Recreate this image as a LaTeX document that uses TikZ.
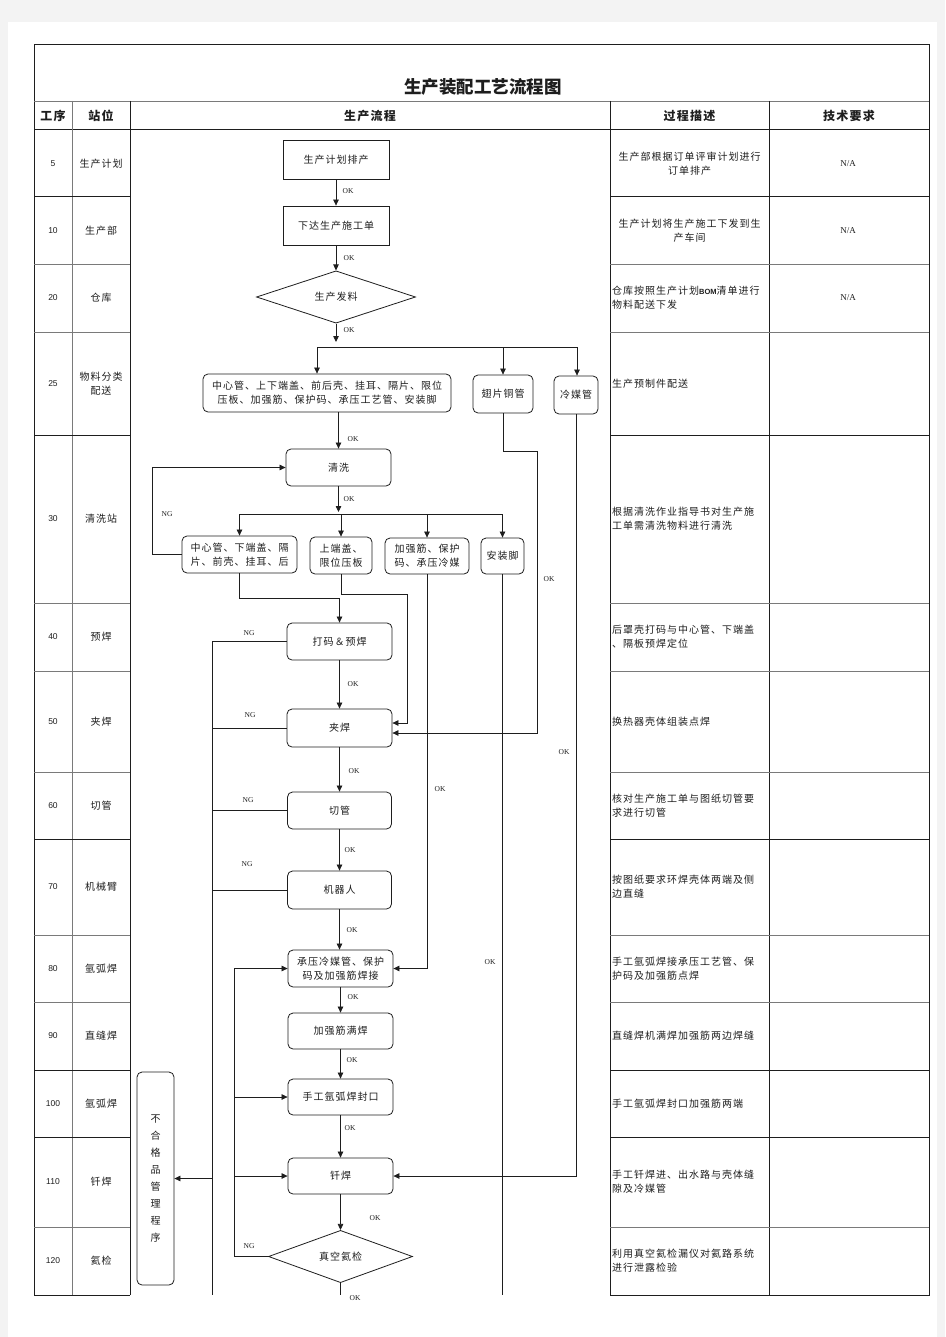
\documentclass[tikz,border=0pt]{standalone}
\usepackage{fontspec}
\setmainfont[LetterSpace=10]{Noto Sans CJK SC}
\newfontfamily\titlefont{Noto Sans CJK SC}
\newfontfamily\latserif{Liberation Serif}
\newfontfamily\latsans{Liberation Sans}
\usetikzlibrary{arrows.meta,shapes.geometric,calc}
\definecolor{pagebg}{HTML}{F3F3F3}
\definecolor{ink}{HTML}{1E1E1E}
\definecolor{gridc}{HTML}{7A7A7A}
\begin{document}
\begin{tikzpicture}[x=1pt,y=-1pt,
  tbl/.style={draw=ink,line width=1pt},
  tblthin/.style={draw=gridc,line width=0.8pt},
  txt/.style={font=\fontsize{10}{14}\selectfont,inner sep=0pt,align=center,text=ink},
  desc/.style={txt,anchor=west,align=left},
  numtxt/.style={font=\latsans\fontsize{8.5}{10}\selectfont,inner sep=0pt,text=ink},
  hdr/.style={font=\bfseries\fontsize{12}{14}\selectfont,inner sep=0pt,text=ink},
  na/.style={font=\latserif\fontsize{9}{10}\selectfont,inner sep=0pt,text=ink},
  lbl/.style={font=\latserif\fontsize{7.5}{8}\selectfont,inner sep=0pt,text=ink},
  sbox/.style={draw=ink,line width=0.8pt,inner sep=0pt,align=center,font=\fontsize{10}{14}\selectfont,text=ink},
  box/.style={sbox,rounded corners=5pt},
  dia/.style={draw=ink,line width=0.8pt,diamond,inner sep=0pt,align=center,font=\fontsize{10}{14}\selectfont,text=ink},
  ln/.style={draw=ink,line width=0.75pt},
  arr/.style={ln,-{Triangle[length=6pt,width=5.5pt]}}
]
\useasboundingbox (0,0) rectangle (945,1337);
\fill[pagebg] (0,0) rectangle (945,1337);
\fill[white] (8,22) rectangle (937,1337);

% ---------------- table ----------------
\draw[tbl] (130,1295) -- (34,1295) -- (34,45) -- (929,45) -- (929,1295) -- (610,1295);
\draw[tblthin] (34,101) -- (929,101);
\draw[tbl] (34,130) -- (929,130);
\draw[tblthin] (72,101) -- (72,1295);
\foreach \x in {130,610,769} \draw[tbl] (\x,101) -- (\x,1295);
\foreach \y in {197,435,839,1070,1137} {
  \draw[tbl] (34,\y) -- (130,\y);
  \draw[tbl] (610,\y) -- (929,\y);
}
\foreach \y in {264,332,603,671,772,935,1002,1227} {
  \draw[tblthin] (34,\y) -- (130,\y);
  \draw[tblthin] (610,\y) -- (929,\y);
}

\node[font=\titlefont\bfseries\fontsize{17.5}{20}\selectfont,inner sep=0pt,text=ink] (title) at (483,87) {生产装配工艺流程图};
\node[hdr] (h1) at (53,115.5) {工序};
\node[hdr] (h2) at (101,115.5) {站位};
\node[hdr] (h3) at (370,115.5) {生产流程};
\node[hdr] (h4) at (689.5,115.5) {过程描述};
\node[hdr] (h5) at (849,115.5) {技术要求};

% step numbers and stations
\node[numtxt] (r5)   at (53,163.5) {5};
\node[numtxt] (r10)  at (53,230.5) {10};
\node[numtxt] (r20)  at (53,298) {20};
\node[numtxt] (r25)  at (53,383.5) {25};
\node[numtxt] (r30)  at (53,519) {30};
\node[numtxt] (r40)  at (53,637) {40};
\node[numtxt] (r50)  at (53,721.5) {50};
\node[numtxt] (r60)  at (53,805.5) {60};
\node[numtxt] (r70)  at (53,887) {70};
\node[numtxt] (r80)  at (53,968.5) {80};
\node[numtxt] (r90)  at (53,1036) {90};
\node[numtxt] (r100) at (53,1103.5) {100};
\node[numtxt] (r110) at (53,1182) {110};
\node[numtxt] (r120) at (53,1261) {120};

\node[txt] (s5)   at (101,163.5) {生产计划};
\node[txt] (s10)  at (101,230.5) {生产部};
\node[txt] (s20)  at (101,298) {仓库};
\node[txt] (s25)  at (101,383.5) {物料分类\\配送};
\node[txt] (s30)  at (101,519) {清洗站};
\node[txt] (s40)  at (101,637) {预焊};
\node[txt] (s50)  at (101,721.5) {夹焊};
\node[txt] (s60)  at (101,805.5) {切管};
\node[txt] (s70)  at (101,887) {机械臂};
\node[txt] (s80)  at (101,968.5) {氩弧焊};
\node[txt] (s90)  at (101,1036) {直缝焊};
\node[txt] (s100) at (101,1103.5) {氩弧焊};
\node[txt] (s110) at (101,1182) {钎焊};
\node[txt] (s120) at (101,1261) {氦检};

% descriptions
\node[txt]  (p5)   at (689.5,163.5) {生产部根据订单评审计划进行\\订单排产};
\node[txt]  (p10)  at (689.5,230.5) {生产计划将生产施工下发到生\\产车间};
\node[desc] (p20)  at (612,298) {仓库按照生产计划{\latsans\bfseries\fontsize{7.5}{9}\selectfont BOM}清单进行\\物料配送下发};
\node[desc] (p25)  at (612,383.5) {生产预制件配送};
\node[desc] (p30)  at (612,519) {根据清洗作业指导书对生产施\\工单需清洗物料进行清洗};
\node[desc] (p40)  at (612,637) {后罩壳打码与中心管、下端盖\\、隔板预焊定位};
\node[desc] (p50)  at (612,721.5) {换热器壳体组装点焊};
\node[desc] (p60)  at (612,805.5) {核对生产施工单与图纸切管要\\求进行切管};
\node[desc] (p70)  at (612,887) {按图纸要求环焊壳体两端及侧\\边直缝};
\node[desc] (p80)  at (612,968.5) {手工氩弧焊接承压工艺管、保\\护码及加强筋点焊};
\node[desc] (p90)  at (612,1036) {直缝焊机满焊加强筋两边焊缝};
\node[desc] (p100) at (612,1103.5) {手工氩弧焊封口加强筋两端};
\node[desc] (p110) at (612,1182) {手工钎焊进、出水路与壳体缝\\隙及冷媒管};
\node[desc] (p120) at (612,1261) {利用真空氦检漏仪对氦路系统\\进行泄露检验};

\node[na] (q5)  at (848,163.5) {N/A};
\node[na] (q10) at (848,230.5) {N/A};
\node[na] (q20) at (848,298) {N/A};

% ---------------- flow nodes ----------------
\node[sbox,minimum width=106,minimum height=39] (n1) at (336,159.5) {生产计划排产};
\node[sbox,minimum width=106,minimum height=39] (n2) at (336,225.5) {下达生产施工单};
\node[dia,minimum width=159,minimum height=48] (d1) at (336,297) {生产发料};
\node[box,minimum width=248,minimum height=38] (n3) at (327,393) {中心管、上下端盖、前后壳、挂耳、隔片、限位\\压板、加强筋、保护码、承压工艺管、安装脚};
\node[box,minimum width=60,minimum height=38] (n4) at (503,394) {翅片铜管};
\node[box,minimum width=44,minimum height=38] (n5) at (576,395) {冷媒管};
\node[box,minimum width=105,minimum height=37] (n6) at (338.5,467.5) {清洗};
\node[box,minimum width=115,minimum height=37] (n7) at (239.5,554.5) {中心管、下端盖、隔\\片、前壳、挂耳、后};
\node[box,minimum width=62,minimum height=37] (n8) at (341,555.5) {上端盖、\\限位压板};
\node[box,minimum width=84,minimum height=36] (n9) at (427,556) {加强筋、保护\\码、承压冷媒};
\node[box,minimum width=43,minimum height=36] (n10) at (502.5,556) {安装脚};
\node[box,minimum width=105,minimum height=37] (n11) at (339.5,641.5) {打码＆预焊};
\node[box,minimum width=105,minimum height=38] (n12) at (339.5,728) {夹焊};
\node[box,minimum width=104,minimum height=37] (n13) at (339.5,810.5) {切管};
\node[box,minimum width=104,minimum height=38] (n14) at (339.5,890) {机器人};
\node[box,minimum width=105,minimum height=37] (n15) at (340.5,968.5) {承压冷媒管、保护\\码及加强筋焊接};
\node[box,minimum width=105,minimum height=36] (n16) at (340.5,1031) {加强筋满焊};
\node[box,minimum width=105,minimum height=36] (n17) at (340.5,1097) {手工氩弧焊封口};
\node[box,minimum width=105,minimum height=36] (n18) at (340.5,1176) {钎焊};
\node[dia,minimum width=144,minimum height=41] (d2) at (340.5,1256.5) {真空氦检};
\node[box,minimum width=37,minimum height=213,font=\fontsize{10}{17}\selectfont] (n19) at (155.5,1178.5) {不\\合\\格\\品\\管\\理\\程\\序};

% ---------------- connectors ----------------
\draw[arr] (n1.south) -- (n2.north);
\draw[arr] (n2.south) -- (d1.north);
\coordinate (s1) at (336,342);
\draw[arr] (d1.south) -- (s1);
\coordinate (bL) at (317,347);
\coordinate (bR) at (577,347);
\draw[ln] (bL) -- (bR);
\draw[arr] (bL) -- (bL |- n3.north);
\draw[arr] (n4.north |- bL) -- (n4.north);
\draw[arr] (bR) -- (bR |- n5.north);

\draw[arr] (n6.north |- n3.south) -- (n6.north);
\coordinate (s2) at (338.5,512);
\draw[arr] (n6.south) -- (s2);
\coordinate (cL) at (239.5,514);
\coordinate (cR) at (502.5,514);
\draw[ln] (cL) -- (cR);
\draw[arr] (cL) -- (n7.north);
\draw[arr] (n8.north |- cL) -- (n8.north);
\draw[arr] (n9.north |- cL) -- (n9.north);
\draw[arr] (cR) -- (n10.north);

% NG back to cleaning
\draw[arr] (n7.west) -- ++(-29,0) |- (n6.west);
% branches downwards
\draw[arr] (n7.south) -- ++(0,24.5) -| (n11.north);
\draw[arr] (n8.south) -- ++(0,19.5) -| (407,723) -- ($(n12.east)+(0,-5)$);
\draw[arr] (n9.south) -- (n9.south |- n15.east) -- (n15.east);
\coordinate (e10) at (502.5,1295);
\draw[ln] (n10.south) -- (e10);
\draw[arr] (n4.south) -- (503,451) -| (537,733) -- ($(n12.east)+(0,5)$);
\draw[arr] (n5.south) -- (n5.south |- n18.east) -- (n18.east);

% main chain
\draw[arr] (n11.south) -- (n12.north);
\draw[arr] (n12.south) -- (n12.south |- n13.north);
\draw[arr] (n13.south) -- (n14.north);
\draw[arr] (n14.south) -- (n14.south |- n15.north);
\draw[arr] (n15.south) -- (n16.north);
\draw[arr] (n16.south) -- (n17.north);
\draw[arr] (n17.south) -- (n18.north);
\draw[arr] (n18.south) -- (d2.north);
\coordinate (e2) at (340.5,1295);
\draw[ln] (d2.south) -- (e2);

% NG column to nonconforming procedure
\coordinate (g1) at (212,641.5);
\coordinate (g2) at (212,1295);
\draw[ln] (n11.west) -- (g1) -- (g2);
\draw[ln] (n12.west) -- (n12.west -| g1);
\draw[ln] (n13.west) -- (n13.west -| g1);
\draw[ln] (n14.west) -- (n14.west -| g1);
\draw[arr] (n19.east -| g1) -- (n19.east);

% NG from helium test
\coordinate (g3) at (234,1256.5);
\draw[arr] (d2.west) -- (g3) |- (n15.west);
\draw[arr] (n17.west -| g3) -- (n17.west);
\draw[arr] (n18.west -| g3) -- (n18.west);

% ---------------- labels ----------------
\node[lbl] (ok1)  at (348,191) {OK};
\node[lbl] (ok2)  at (349,258) {OK};
\node[lbl] (ok3)  at (349,330) {OK};
\node[lbl] (ok4)  at (353,439) {OK};
\node[lbl] (ok5)  at (349,499) {OK};
\node[lbl] (ok6)  at (549,579) {OK};
\node[lbl] (ok7)  at (353,684) {OK};
\node[lbl] (ok8)  at (564,752) {OK};
\node[lbl] (ok9)  at (354,771) {OK};
\node[lbl] (ok10) at (440,789) {OK};
\node[lbl] (ok11) at (350,850) {OK};
\node[lbl] (ok12) at (352,930) {OK};
\node[lbl] (ok13) at (490,962) {OK};
\node[lbl] (ok14) at (353,997) {OK};
\node[lbl] (ok15) at (352,1060) {OK};
\node[lbl] (ok16) at (350,1128) {OK};
\node[lbl] (ok17) at (375,1218) {OK};
\node[lbl] (ok18) at (355,1298) {OK};
\node[lbl] (ng1) at (167,514) {NG};
\node[lbl] (ng2) at (249,633) {NG};
\node[lbl] (ng3) at (250,715) {NG};
\node[lbl] (ng4) at (248,800) {NG};
\node[lbl] (ng5) at (247,864) {NG};
\node[lbl] (ng6) at (249,1246) {NG};
\end{tikzpicture}
\end{document}
